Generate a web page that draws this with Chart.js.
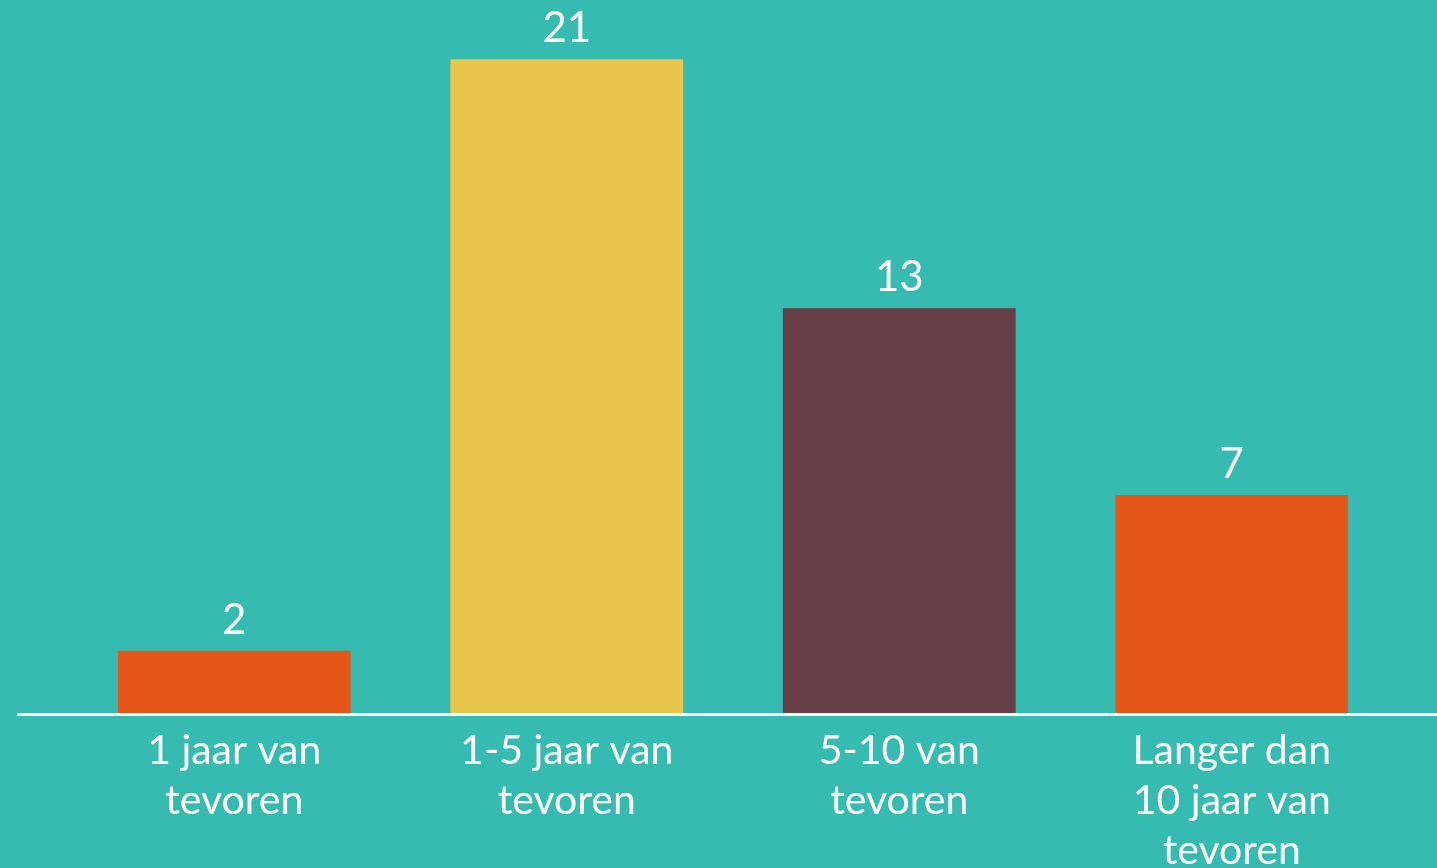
<!DOCTYPE html>
<html>
<head>
<meta charset="utf-8">
<script src="https://cdn.jsdelivr.net/npm/chart.js@4"></script>
<style>
html,body{margin:0;padding:0;background:#36BBB0;overflow:hidden;}
#wrap{width:1437px;height:868px;position:relative;}
</style>
</head>
<body>
<div id="wrap"><canvas id="c" width="1437" height="868"></canvas></div>
<script>
const categories = [["1 jaar van","tevoren"],["1-5 jaar van","tevoren"],["5-10 van","tevoren"],["Langer dan","10 jaar van","tevoren"]];
const values = [2, 21, 13, 7];
const barColors = ["#E55619", "#E9C64A", "#663E45", "#E55619"];

const FONT = "Lato, 'Open Sans', sans-serif";

const baselinePlugin = {
  id: 'baseline',
  afterDatasetsDraw(chart) {
    const ctx = chart.ctx;
    const y = chart.scales.y.getPixelForValue(0);
    ctx.save();
    ctx.strokeStyle = '#ffffff';
    ctx.lineWidth = 3;
    ctx.beginPath();
    ctx.moveTo(17, y + 1.5);
    ctx.lineTo(chart.width, y + 1.5);
    ctx.stroke();
    ctx.restore();
  }
};

const valueLabels = {
  id: 'valueLabels',
  afterDatasetsDraw(chart) {
    const ctx = chart.ctx;
    const meta = chart.getDatasetMeta(0);
    ctx.save();
    ctx.fillStyle = '#ffffff';
    ctx.font = "42px " + FONT;
    ctx.textAlign = 'center';
    ctx.textBaseline = 'alphabetic';
    meta.data.forEach((bar, i) => {
      ctx.fillText(String(values[i]), bar.x, bar.y - 17);
    });
    ctx.restore();
  }
};

new Chart(document.getElementById('c'), {
  type: 'bar',
  data: {
    labels: categories,
    datasets: [{
      data: values,
      backgroundColor: barColors,
      borderWidth: 0,
      categoryPercentage: 0.7,
      barPercentage: 1.0
    }]
  },
  options: {
    responsive: false,
    animation: false,
    layout: { padding: { left: 68, right: 39, top: 0, bottom: 0 } },
    plugins: { legend: { display: false }, tooltip: { enabled: false } },
    scales: {
      y: {
        display: false,
        min: 0,
        max: 22.9
      },
      x: {
        grid: { display: false },
        border: { display: false },
        ticks: {
          color: '#ffffff',
          font: { family: FONT, size: 41, lineHeight: 1.22 },
          padding: 5,
          maxRotation: 0,
          autoSkip: false
        },
        afterFit(scale) { scale.height = 155; }
      }
    }
  },
  plugins: [baselinePlugin, valueLabels]
});
</script>
</body>
</html>
